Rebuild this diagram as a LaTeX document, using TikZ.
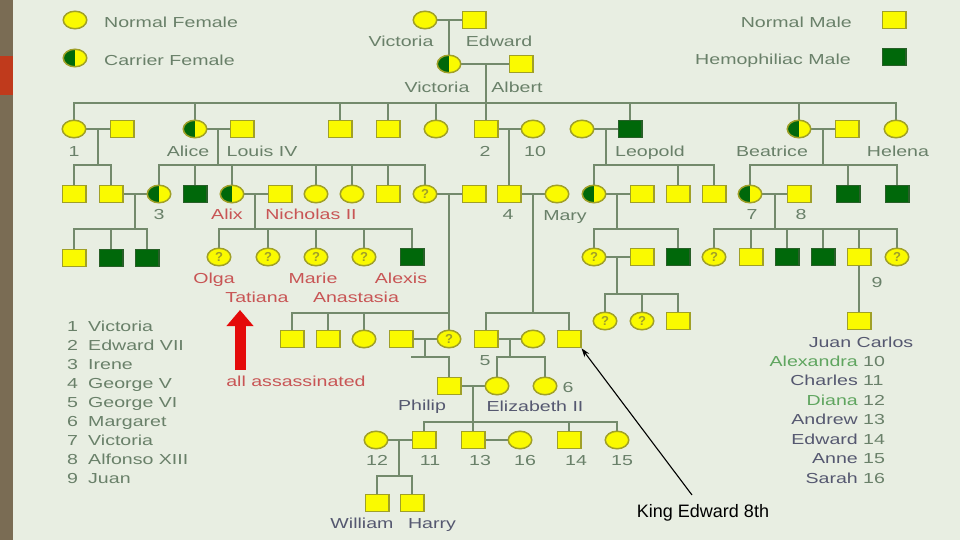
\documentclass[tikz,border=0pt]{standalone}
\usepackage{fontspec}
\setmainfont{Liberation Sans}
\usepackage{graphicx}
\usetikzlibrary{shapes.geometric,arrows.meta,backgrounds}
\definecolor{bgC}{RGB}{232,238,226}
\definecolor{stripC}{RGB}{122,108,84}
\definecolor{redBlk}{RGB}{192,58,28}
\definecolor{lnC}{RGB}{115,138,108}
\definecolor{yelC}{RGB}{250,250,0}
\definecolor{olC}{RGB}{160,160,40}
\definecolor{dkG}{RGB}{0,104,10}
\definecolor{dkGo}{RGB}{40,95,40}
\definecolor{txG}{RGB}{105,128,105}
\definecolor{txS}{RGB}{85,88,112}
\definecolor{txR}{RGB}{200,85,85}
\definecolor{txL}{RGB}{95,165,95}
\definecolor{arR}{RGB}{228,10,10}
\newcommand\wtext[1]{\scalebox{1.35}[1]{#1}}
\tikzset{
  ln/.style={draw=lnC, line width=1.8pt, line cap=rect},
  male/.style={rectangle, draw=olC, fill=yelC, line width=1.5pt, minimum width=23.5pt, minimum height=17pt, inner sep=0pt},
  hemo/.style={male, draw=dkGo, fill=dkG},
  female/.style={ellipse, draw=olC, fill=yelC, line width=1.5pt, minimum width=23.5pt, minimum height=17.5pt, inner sep=0pt, text=olC, font=\fontsize{13}{13}\selectfont\bfseries},
  carrier/.style={female, path picture={\fill[dkG] (path picture bounding box.south west) rectangle (path picture bounding box.north);}},
  lbl/.style={inner sep=0pt, text height=10.4pt, text depth=0pt, text=txG, font=\fontsize{14.5}{16}\selectfont},
  lblR/.style={lbl, text=txR},
  lblS/.style={lbl, text=txS},
}
\begin{document}
\begin{tikzpicture}[x=1pt,y=-1pt]
\useasboundingbox (0,0) rectangle (960,540);
\begin{scope}[on background layer]
\fill[bgC] (0,0) rectangle (960,540);
\fill[stripC] (0,0) rectangle (13,540);
\fill[redBlk] (0,56) rectangle (13,95);
\end{scope}

% legend
\node[female] (lgF) at (75,20) {};
\node[lbl, anchor=west] (lgFt) at (104,22) {\wtext{Normal Female}};
\node[carrier] (lgC) at (75,58) {};
\node[lbl, anchor=west] (lgCt) at (104,60) {\wtext{Carrier Female}};
\node[male] (lgM) at (894,20) {};
\node[lbl, anchor=east] (lgMt) at (852,22) {\wtext{Normal Male}};
\node[hemo] (lgH) at (894,57) {};
\node[lbl, anchor=east] (lgHt) at (851,59) {\wtext{Hemophiliac Male}};

% generation 0
\node[female] (vic0) at (425,20) {};
\node[male] (edw0) at (474,20) {};
\node[lbl] (vic0t) at (401,41) {\wtext{Victoria}};
\node[lbl] (edw0t) at (499,41) {\wtext{Edward}};
\node[carrier] (vic1) at (449,64) {};
\node[male] (alb) at (521,64) {};
\node[lbl] (vic1t) at (437,87) {\wtext{Victoria}};
\node[lbl] (albt) at (517,87) {\wtext{Albert}};

% generation 1
\node[female] (g1a) at (74,129) {};
\node[male] (g1ah) at (122,129) {};
\node[carrier] (alice) at (195,129) {};
\node[male] (louis) at (242,129) {};
\node[male] (g1b) at (340,129) {};
\node[male] (g1c) at (388,129) {};
\node[female] (g1d) at (436,129) {};
\node[male] (ed7) at (486,129) {};
\node[female] (alx) at (533,129) {};
\node[female] (leow) at (582,129) {};
\node[hemo] (leo) at (630,129) {};
\node[carrier] (bea) at (799,129) {};
\node[male] (beah) at (847,129) {};
\node[female] (hel) at (896,129) {};
\node[lbl] (t1) at (74,151) {\wtext{1}};
\node[lbl] (talice) at (188,151) {\wtext{Alice}};
\node[lbl] (tlouis) at (262,151) {\wtext{Louis IV}};
\node[lbl] (t2) at (485,151) {\wtext{2}};
\node[lbl] (t10) at (535,151) {\wtext{10}};
\node[lbl] (tleo) at (650,151) {\wtext{Leopold}};
\node[lbl] (tbea) at (772,151) {\wtext{Beatrice}};
\node[lbl] (thel) at (898,151) {\wtext{Helena}};

% generation 2
\node[male] (h1) at (74,194) {};
\node[male] (h2) at (111,194) {};
\node[carrier] (irene) at (159,194) {};
\node[hemo] (g2g) at (195,194) {};
\node[carrier] (alix) at (232,194) {};
\node[male] (nich) at (280,194) {};
\node[female] (g2e) at (316,194) {};
\node[female] (g2f) at (352,194) {};
\node[male] (g2m) at (388,194) {};
\node[female] (vh) at (425,194) {?};
\node[male] (lb) at (474,194) {};
\node[male] (geo5) at (509,194) {};
\node[female] (mary) at (557,194) {};
\node[carrier] (aa) at (594,194) {};
\node[male] (at) at (642,194) {};
\node[male] (l2) at (678,194) {};
\node[male] (l3) at (714,194) {};
\node[carrier] (vic7) at (750,194) {};
\node[male] (alf) at (799,194) {};
\node[hemo] (bh1) at (848,194) {};
\node[hemo] (bh2) at (897,194) {};
\node[lbl] (t3) at (159,214) {\wtext{3}};
\node[lblR] (talix) at (227,214) {\wtext{Alix}};
\node[lblR] (tnich) at (311,214) {\wtext{Nicholas II}};
\node[lbl] (t4) at (508,214) {\wtext{4}};
\node[lbl] (tmary) at (565,215) {\wtext{Mary}};
\node[lbl] (t7) at (752,214) {\wtext{7}};
\node[lbl] (t8) at (801,214) {\wtext{8}};

% generation 3 (upper row)
\node[male] (i1) at (74,258) {};
\node[hemo] (i2) at (111,258) {};
\node[hemo] (i3) at (147,258) {};
\node[female] (olga) at (219,257) {?};
\node[female] (tat) at (268,257) {?};
\node[female] (marie) at (316,257) {?};
\node[female] (anas) at (364,257) {?};
\node[hemo] (alexis) at (412,257) {};
\node[female] (al1) at (594,257) {?};
\node[male] (al1h) at (642,257) {};
\node[hemo] (al2) at (678,257) {};
\node[female] (b1) at (714,257) {?};
\node[male] (b2) at (751,257) {};
\node[hemo] (b3) at (787,257) {};
\node[hemo] (b4) at (823,257) {};
\node[male] (juan) at (859,257) {};
\node[female] (b6) at (897,257) {?};
\node[lblR] (tolga) at (214,278) {\wtext{Olga}};
\node[lblR] (ttat) at (257,297) {\wtext{Tatiana}};
\node[lblR] (tmarie) at (313,278) {\wtext{Marie}};
\node[lblR] (tanas) at (356,297) {\wtext{Anastasia}};
\node[lblR] (talexis) at (401,278) {\wtext{Alexis}};
\node[lbl] (t9) at (877,282) {\wtext{9}};

% lower rows
\node[female] (a1) at (605,321) {?};
\node[female] (a2) at (642,321) {?};
\node[male] (a3) at (678,321) {};
\node[male] (jc) at (859,321) {};
\node[lblS] (tjc) at (861,342) {\wtext{Juan Carlos}};

\node[male] (vb1) at (292,339) {};
\node[male] (vb2) at (328,339) {};
\node[female] (vb3) at (364,339) {};
\node[male] (andr) at (401,339) {};
\node[female] (alic) at (449,339) {?};
\node[male] (geo6) at (486,339) {};
\node[female] (eliz) at (533,339) {};
\node[male] (ed8) at (569,339) {};
\node[lbl] (t5) at (485,360) {\wtext{5}};

\node[male] (philip) at (449,386) {};
\node[female] (e2) at (497,386) {};
\node[female] (marg) at (545,386) {};
\node[lblS] (tphilip) at (422,405) {\wtext{Philip}};
\node[lblS] (te2) at (535,406) {\wtext{Elizabeth II}};
\node[lbl] (t6) at (568,387) {\wtext{6}};

\node[female] (diana) at (376,440) {};
\node[male] (charles) at (424,440) {};
\node[male] (andrew) at (473,440) {};
\node[female] (sarah) at (520,440) {};
\node[male] (edward) at (569,440) {};
\node[female] (anne) at (617,440) {};
\node[lbl] (t12) at (377,460) {\wtext{12}};
\node[lbl] (t11) at (430,460) {\wtext{11}};
\node[lbl] (t13) at (480,460) {\wtext{13}};
\node[lbl] (t16) at (525,460) {\wtext{16}};
\node[lbl] (t14) at (576,460) {\wtext{14}};
\node[lbl] (t15) at (622,460) {\wtext{15}};

\node[male] (william) at (377,503) {};
\node[male] (harry) at (412,503) {};
\node[lblS] (twill) at (362,523) {\wtext{William}};
\node[lblS] (tharry) at (432,523) {\wtext{Harry}};

% left list
\foreach \i/\nm [count=\k from 0] in {1/Victoria, 2/Edward VII, 3/Irene, 4/George V, 5/George VI, 6/Margaret, 7/Victoria, 8/Alfonso XIII, 9/Juan} {
  \node[lbl, anchor=west] (ln\i) at (67,326+19*\k) {\wtext{\i}};
  \node[lbl, anchor=west] (lt\i) at (88,326+19*\k) {\wtext{\nm}};
}
% right list
\foreach \nm/\num/\col [count=\k from 0] in {Alexandra/10/txL, Charles/11/txS, Diana/12/txL, Andrew/13/txS, Edward/14/txS, Anne/15/txS, Sarah/16/txS} {
  \node[lbl, text=\col, anchor=east] (rt\num) at (858,361+19.5*\k) {\wtext{\nm}};
  \node[lbl, anchor=west] (rn\num) at (863,361+19.5*\k) {\wtext{\num}};
}

% red arrow and note
\coordinate (raB) at (240,370);
\coordinate (raT) at (240,310);
\draw[arR, line width=11pt, -{Triangle[width=26pt,length=16pt]}] (raB) -- (raT);
\node[lblR] (tass) at (296,381) {\wtext{all assassinated}};

% King Edward 8th
\node[inner sep=0pt, text height=12.9pt, text depth=0pt, font=\fontsize{18}{20}\selectfont] (ke) at (703,511) {King Edward 8th};
\coordinate (kst) at (692,495);
\draw[line width=1.1pt, -{Stealth[length=9pt,width=6pt]}] (kst) -- (ed8.south east);

% connectors
\begin{scope}[on background layer]
\coordinate (y103) at (0,103);
\coordinate (y165) at (0,165);
\coordinate (y229) at (0,229);
\coordinate (y294) at (0,294);
\coordinate (y313) at (0,313);
\coordinate (y357) at (0,357);
\coordinate (y422) at (0,422);
\coordinate (y476) at (0,476);
% gen 0
\draw[ln] (vic0.east) -- (edw0.west);
\coordinate (d0) at (449,20);
\draw[ln] (d0) -- (vic1.north);
\draw[ln] (vic1.east) -- (alb.west);
\coordinate (d1) at (486,64);
\draw[ln] (d1) -- (ed7.north);
\draw[ln] (g1a.north |- y103) -- (hel.north |- y103);
\foreach \n in {g1a,alice,g1b,g1c,g1d,leo,bea,hel} \draw[ln] (\n.north) -- (\n.north |- y103);
% family of 1
\draw[ln] (g1a.east) -- (g1ah.west);
\coordinate (d2) at (98,129);
\draw[ln] (d2) -- (d2 |- y165);
\draw[ln] (h1.north |- y165) -- (h2.north |- y165);
\foreach \n in {h1,h2} \draw[ln] (\n.north) -- (\n.north |- y165);
% Alice
\draw[ln] (alice.east) -- (louis.west);
\coordinate (d3) at (218,129);
\draw[ln] (d3) -- (d3 |- y165);
\draw[ln] (irene.north |- y165) -- (vh.north |- y165);
\foreach \n in {irene,g2g,alix,g2e,g2f,g2m,vh} \draw[ln] (\n.north) -- (\n.north |- y165);
% Edward VII
\draw[ln] (ed7.east) -- (alx.west);
\coordinate (d4) at (509,129);
\draw[ln] (d4) -- (geo5.north);
% Leopold
\draw[ln] (leow.east) -- (leo.west);
\coordinate (d5) at (606,129);
\draw[ln] (d5) -- (d5 |- y165);
\draw[ln] (aa.north |- y165) -- (l3.north |- y165);
\foreach \n in {aa,l2,l3} \draw[ln] (\n.north) -- (\n.north |- y165);
% Beatrice
\draw[ln] (bea.east) -- (beah.west);
\coordinate (d6) at (823,129);
\draw[ln] (d6) -- (d6 |- y165);
\draw[ln] (vic7.north |- y165) -- (bh2.north |- y165);
\foreach \n in {vic7,bh1,bh2} \draw[ln] (\n.north) -- (\n.north |- y165);
% Irene
\draw[ln] (h2.east) -- (irene.west);
\coordinate (d7) at (135,194);
\draw[ln] (d7) -- (d7 |- y229);
\draw[ln] (i1.north |- y229) -- (i3.north |- y229);
\foreach \n in {i1,i2,i3} \draw[ln] (\n.north) -- (\n.north |- y229);
% Alix
\draw[ln] (alix.east) -- (nich.west);
\coordinate (d8) at (255,194);
\draw[ln] (d8) -- (d8 |- y229);
\draw[ln] (olga.north |- y229) -- (alexis.north |- y229);
\foreach \n in {olga,tat,marie,anas,alexis} \draw[ln] (\n.north) -- (\n.north |- y229);
% Victoria of Hesse
\draw[ln] (vh.east) -- (lb.west);
\coordinate (d9) at (449,194);
\draw[ln] (d9) -- (alic.north);
\draw[ln] (vb1.north |- y313) -- (alic.north |- y313);
\foreach \n in {vb1,vb2,vb3} \draw[ln] (\n.north) -- (\n.north |- y313);
% George V
\draw[ln] (geo5.east) -- (mary.west);
\coordinate (d10) at (533,194);
\draw[ln] (d10) -- (d10 |- y313);
\draw[ln] (geo6.north |- y313) -- (ed8.north |- y313);
\foreach \n in {geo6,ed8} \draw[ln] (\n.north) -- (\n.north |- y313);
% Alice of Albany
\draw[ln] (aa.east) -- (at.west);
\coordinate (d11) at (617,194);
\draw[ln] (d11) -- (d11 |- y229);
\draw[ln] (al1.north |- y229) -- (al2.north |- y229);
\foreach \n in {al1,al2} \draw[ln] (\n.north) -- (\n.north |- y229);
\draw[ln] (al1.east) -- (al1h.west);
\coordinate (d13) at (617,257);
\draw[ln] (d13) -- (d13 |- y294);
\draw[ln] (a1.north |- y294) -- (a3.north |- y294);
\foreach \n in {a1,a2,a3} \draw[ln] (\n.north) -- (\n.north |- y294);
% Victoria Eugenie
\draw[ln] (vic7.east) -- (alf.west);
\coordinate (d12) at (775,194);
\draw[ln] (d12) -- (d12 |- y229);
\draw[ln] (b1.north |- y229) -- (b6.north |- y229);
\foreach \n in {b1,b2,b3,b4,juan,b6} \draw[ln] (\n.north) -- (\n.north |- y229);
\draw[ln] (juan.south) -- (jc.north);
% Philip's parents
\draw[ln] (andr.east) -- (alic.west);
\coordinate (d14) at (425,339);
\draw[ln] (d14) -- (d14 |- y357);
\coordinate (stub) at (412,357);
\draw[ln] (stub) -- (philip.north |- y357);
\draw[ln] (philip.north) -- (philip.north |- y357);
% George VI
\draw[ln] (geo6.east) -- (eliz.west);
\coordinate (d15) at (510,339);
\draw[ln] (d15) -- (d15 |- y357);
\draw[ln] (e2.north |- y357) -- (marg.north |- y357);
\foreach \n in {e2,marg} \draw[ln] (\n.north) -- (\n.north |- y357);
% Elizabeth II
\draw[ln] (philip.east) -- (e2.west);
\coordinate (d16) at (473,386);
\draw[ln] (d16) -- (andrew.north);
\draw[ln] (charles.north |- y422) -- (anne.north |- y422);
\foreach \n in {charles,edward,anne} \draw[ln] (\n.north) -- (\n.north |- y422);
% Charles
\draw[ln] (diana.east) -- (charles.west);
\coordinate (d17) at (399,440);
\draw[ln] (d17) -- (d17 |- y476);
\draw[ln] (william.north |- y476) -- (harry.north |- y476);
\foreach \n in {william,harry} \draw[ln] (\n.north) -- (\n.north |- y476);
\draw[ln] (andrew.east) -- (sarah.west);
\end{scope}
\end{tikzpicture}
\end{document}
